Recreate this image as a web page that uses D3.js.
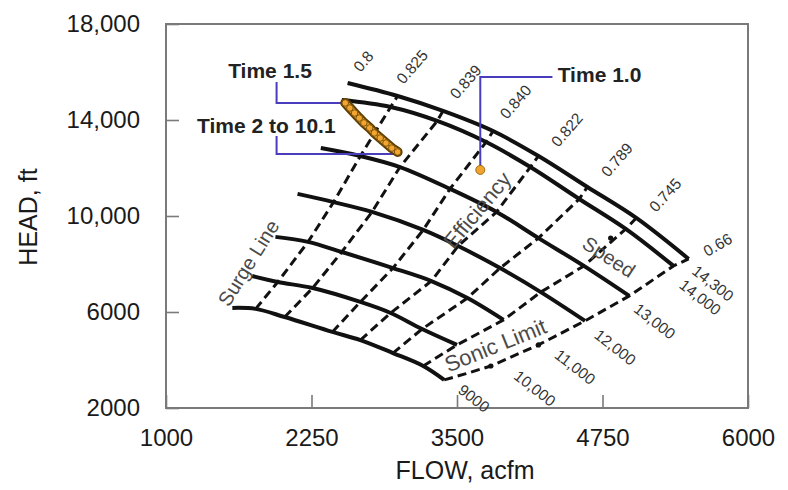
<!DOCTYPE html>
<html><head><meta charset="utf-8">
<script src="https://cdn.jsdelivr.net/npm/d3@7"></script>
<style>
body{margin:0;background:#fff}
svg{display:block}
text{font-family:"Liberation Sans",Arial,Helvetica,sans-serif}
</style>
</head><body>
<svg id="chart" width="788" height="490"></svg>
<script>
// ---------------- DATA ----------------
const xTicks = [1000, 2250, 3500, 4750, 6000];
const xTickLabels = ["1000", "2250", "3500", "4750", "6000"];
const yTicks = [2000, 6000, 10000, 14000, 18000];
const yTickLabels = ["2000", "6000", "10,000", "14,000", "18,000"];

const speeds = [9000, 10000, 11000, 12000, 13000, 14000, 14300];
const speedLabels = ["9000", "10,000", "11,000", "12,000", "13,000", "14,000", "14,300"];
const effLabels = ["0.8", "0.825", "0.839", "0.840", "0.822", "0.789", "0.745", "0.66"];

// points on each speed line: surge, 0.825, 0.839, 0.840, 0.822, 0.789, 0.745, (stonewall)
const flow9000  = [1570, 1770, 2020, 2430, 2670, 2950, 3210, 3390];
const head9000  = [6170, 6130, 5790, 5170, 4830, 4290, 3750, 3170];
const flow10000 = [1740, 1960, 2260, 2670, 2930, 3200, 3500];
const head10000 = [7500, 7250, 7000, 6420, 5960, 5290, 4630];
const flow11000 = [1940, 2220, 2510, 2950, 3280, 3590, 3900];
const head11000 = [9130, 8920, 8500, 7830, 7290, 6580, 5670];
const flow12000 = [2130, 2440, 2770, 3210, 3510, 3870, 4220, 4600];
const head12000 = [10920, 10580, 10170, 9420, 8750, 7830, 6830, 5630];
const flow13000 = [2330, 2670, 3010, 3440, 3840, 4200, 4590, 4980];
const head13000 = [12830, 12500, 12040, 11130, 10170, 9080, 7920, 6670];
const flow14000 = [2510, 2930, 3330, 3750, 4130, 4550, 4950, 5360];
const head14000 = [14830, 14540, 13960, 13080, 12040, 10710, 9460, 7920];
const flow14300 = [2560, 2990, 3380, 3810, 4200, 4620, 5040, 5490];
const head14300 = [15540, 15000, 14380, 13540, 12500, 11210, 9920, 8210];

// sonic limit line
const sonicFlow = [3390, 3570, 3790, 4200, 4600, 4980, 5360, 5490];
const sonicHead = [3170, 3420, 3750, 4630, 5630, 6670, 7920, 8210];

// operating trajectory (Time 1.5 ... Time 10.1) and Time 1.0 point
const trajFlow = [2540, 2580, 2620, 2660, 2700, 2750, 2790, 2840, 2890, 2940, 2990];
const trajHead = [14710, 14500, 14290, 14080, 13880, 13670, 13460, 13250, 13040, 12830, 12670];
const time1Flow = 3700, time1Head = 11920;

// ---------------- LAYOUT ----------------
const speedFlows = [flow9000, flow10000, flow11000, flow12000, flow13000, flow14000, flow14300];
const speedHeads = [head9000, head10000, head11000, head12000, head13000, head14000, head14300];

const svg = d3.select("#chart");
const L = 166, R = 748, T = 24, B = 408;
const x = d3.scaleLinear().domain([1000, 6000]).range([L, R]);
const y = d3.scaleLinear().domain([2000, 18000]).range([B, T]);

// label anchors (data coordinates) for text annotations
const effLabelPos = [[2670,15960],[3040,15460],[3500,14830],[3930,14000],[4370,12830],[4800,11580],[5210,10130],[5650,8290]];
const effLabelAngle = [-49,-49,-49,-49,-49,-49,-47,-30];
const speedLabelPos = [[3500,2667],[3980,3250],[4330,4125],[4670,4958],[5010,6042],[5400,7042],[5510,7625]];

const black = "#111";

// frame
svg.append("rect").attr("x", L).attr("y", T).attr("width", R - L).attr("height", B - T)
  .attr("fill", "none").attr("stroke", "#7a7a7a").attr("stroke-width", 2);

// axes
const xAxis = d3.axisBottom(x).tickValues(xTicks).tickFormat((d, i) => xTickLabels[i])
  .tickSizeInner(-13).tickSizeOuter(0).tickPadding(21);
const yAxis = d3.axisLeft(y).tickValues(yTicks).tickFormat((d, i) => yTickLabels[i])
  .tickSizeInner(-13).tickSizeOuter(0).tickPadding(26);
const gx = svg.append("g").attr("transform", `translate(0,${B})`).call(xAxis);
const gy = svg.append("g").attr("transform", `translate(${L},0)`).call(yAxis);
[gx, gy].forEach(g => {
  g.select(".domain").remove();
  g.selectAll(".tick line").attr("stroke", "#7a7a7a").attr("stroke-width", 1.6);
  g.selectAll(".tick text").attr("fill", "#1a1a1a").style("font-size", "24px")
    .style("font-family", '"Liberation Sans",Arial,sans-serif');
});

// axis titles
svg.append("text").attr("x", 465).attr("y", 479).attr("text-anchor", "middle")
  .style("font-size", "25px").attr("fill", "#1a1a1a").text("FLOW, acfm");
svg.append("text").attr("transform", "translate(37,217) rotate(-90)").attr("text-anchor", "middle")
  .style("font-size", "25px").attr("fill", "#1a1a1a").text("HEAD, ft");

const lineLin = d3.line().x(d => x(d[0])).y(d => y(d[1]));
const lineSmooth = d3.line().x(d => x(d[0])).y(d => y(d[1])).curve(d3.curveCatmullRom.alpha(0.5));

// efficiency (dashed) lines, indices 1..6
for (let i = 1; i <= 6; i++) {
  const pts = speeds.map((s, j) => [speedFlows[j][i], speedHeads[j][i]]);
  svg.append("path").attr("d", lineLin(pts)).attr("fill", "none")
    .attr("stroke", black).attr("stroke-width", 3).attr("stroke-dasharray", "9,5");
}
// sonic limit
const sonicPts = sonicFlow.map((f, i) => [f, sonicHead[i]]);
svg.append("path").attr("d", lineLin(sonicPts)).attr("fill", "none")
  .attr("stroke", black).attr("stroke-width", 3).attr("stroke-dasharray", "9,5");
// small arrow heads on sonic line / speed
[[sonicFlow[2], sonicHead[2]], [sonicFlow[3], sonicHead[3]], [4820, 9080]].forEach(p => {
  svg.append("circle").attr("cx", x(p[0])).attr("cy", y(p[1])).attr("r", 2.6).attr("fill", black);
});

// speed lines
speeds.forEach((s, j) => {
  const pts = speedFlows[j].map((f, i) => [f, speedHeads[j][i]]);
  svg.append("path").attr("d", lineSmooth(pts)).attr("fill", "none")
    .attr("stroke", black).attr("stroke-width", 4).attr("stroke-linecap", "butt");
});

// efficiency labels
effLabels.forEach((t, i) => {
  const p = effLabelPos[i];
  svg.append("text").attr("transform", `translate(${x(p[0])},${y(p[1])}) rotate(${effLabelAngle[i]})`)
    .style("font-size", "15.5px").attr("fill", "#333").text(t);
});
// speed labels
speedLabels.forEach((t, i) => {
  const p = speedLabelPos[i];
  svg.append("text").attr("transform", `translate(${x(p[0])},${y(p[1])}) rotate(38)`)
    .style("font-size", "15.5px").attr("fill", "#333").text(t);
});

// region annotations
const notes = [
  {t: "Surge Line", p: [1540, 6180], a: -58, fs: 20},
  {t: "Efficiency", p: [3470, 8583], a: -50, fs: 21.5},
  {t: "Speed", p: [4563, 8708], a: 33, fs: 20},
  {t: "Sonic Limit", p: [3427, 3480], a: -22, fs: 22}
];
notes.forEach(n => {
  svg.append("text").attr("transform", `translate(${x(n.p[0])},${y(n.p[1])}) rotate(${n.a})`)
    .style("font-size", n.fs + "px").attr("fill", "#4a4a4a").text(n.t);
});

// callouts
const purple = "#4a3cbf";
const tr0 = [trajFlow[0], trajHead[0]];
const trN = [trajFlow[trajFlow.length - 1], trajHead[trajHead.length - 1]];
svg.append("path").attr("fill", "none").attr("stroke", purple).attr("stroke-width", 2)
  .attr("d", `M${x(1950)},${y(15580)}V${y(tr0[1])}H${x(tr0[0])}`);
svg.append("path").attr("fill", "none").attr("stroke", purple).attr("stroke-width", 2)
  .attr("d", `M${x(1950)},${y(13330)}V${y(trN[1]) + 2}H${x(trN[0])}`);
svg.append("path").attr("fill", "none").attr("stroke", purple).attr("stroke-width", 2)
  .attr("d", `M${x(time1Flow)},${y(time1Head)}V${y(15790)}H${x(4320)}`);

// trajectory
const trajPts = trajFlow.map((f, i) => [f, trajHead[i]]);
svg.append("path").attr("d", lineLin(trajPts)).attr("fill", "none")
  .attr("stroke", "#5e3f05").attr("stroke-width", 10).attr("stroke-linecap", "round");
svg.append("path").attr("d", lineLin(trajPts)).attr("fill", "none")
  .attr("stroke", "#f0a62c").attr("stroke-width", 6).attr("stroke-linecap", "round");
svg.selectAll("circle.traj").data(trajPts).enter().append("circle").attr("class", "traj")
  .attr("cx", d => x(d[0])).attr("cy", d => y(d[1])).attr("r", 3.3)
  .attr("fill", "#f2a631").attr("stroke", "#7a5308").attr("stroke-width", 1);
svg.append("circle").attr("cx", x(time1Flow)).attr("cy", y(time1Head)).attr("r", 4.5)
  .attr("fill", "#f0a42e").attr("stroke", "#a06c10").attr("stroke-width", 1);

// callout texts
const timeTexts = [
  {t: "Time 1.5", p: [1534, 15750]},
  {t: "Time 2 to 10.1", p: [1267, 13458]},
  {t: "Time 1.0", p: [4365, 15580]}
];
timeTexts.forEach(d => {
  svg.append("text").attr("x", x(d.p[0])).attr("y", y(d.p[1]))
    .style("font-size", "21px").style("font-weight", "bold").attr("fill", "#222").text(d.t);
});
</script>
</body></html>
